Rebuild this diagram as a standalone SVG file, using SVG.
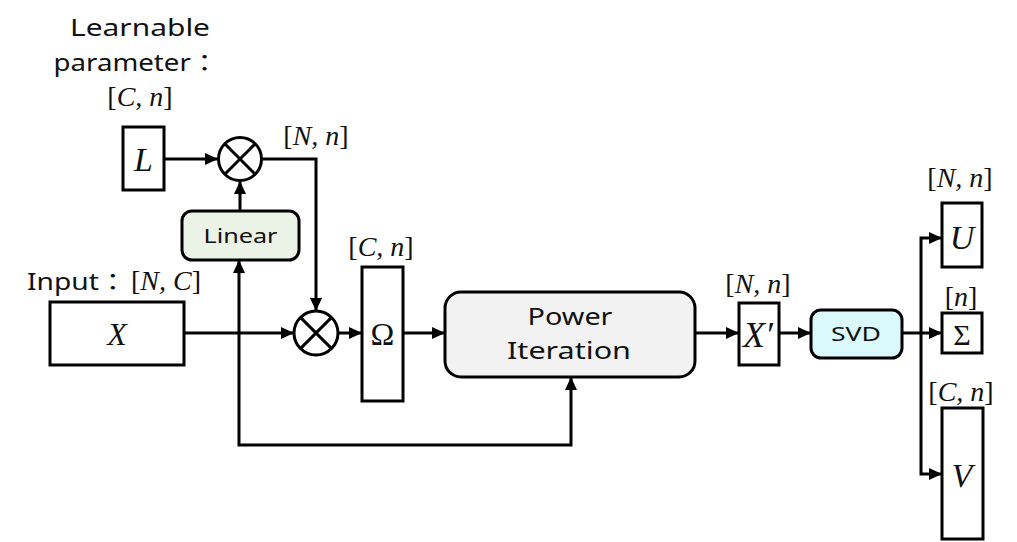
<svg xmlns="http://www.w3.org/2000/svg" width="1017" height="542" viewBox="0 0 1017 542">
<style>
.box{fill:#ffffff;stroke:#000;stroke-width:3}
.op{fill:#ffffff;stroke:#000;stroke-width:3}
.ln{fill:none;stroke:#000;stroke-width:3}
.sans{font-family:"Noto Sans","Noto Sans CJK JP",sans-serif;fill:#111;text-anchor:middle}
.math{font-family:"Liberation Serif","DejaVu Serif",serif;font-style:italic;fill:#111;text-anchor:middle}
.up{font-style:normal}
</style>
<defs>
<marker id="arr" markerUnits="userSpaceOnUse" markerWidth="14" markerHeight="12" refX="13" refY="6" orient="auto-start-reverse">
<path d="M0,0 L13,6 L0,12 Z" fill="#000"/>
</marker>
</defs>
<rect width="1017" height="542" fill="#ffffff"/>

<g id="connectors">
<path class="ln" d="M164,159 H218" marker-end="url(#arr)"/>
<path class="ln" d="M240,211 V181" marker-end="url(#arr)"/>
<path class="ln" d="M262,159 H316 V311" marker-end="url(#arr)"/>
<path class="ln" d="M184,333 H294" marker-end="url(#arr)"/>
<path class="ln" d="M239,260 V445 H571 V377" marker-start="url(#arr)" marker-end="url(#arr)"/>
<path class="ln" d="M338,333 H362" marker-end="url(#arr)"/>
<path class="ln" d="M403,333 H445" marker-end="url(#arr)"/>
<path class="ln" d="M695,333 H739" marker-end="url(#arr)"/>
<path class="ln" d="M779,333 H811" marker-end="url(#arr)"/>
<path class="ln" d="M902,333 H942" marker-end="url(#arr)"/>
<path class="ln" d="M942,238 H921 V474 H942" marker-start="url(#arr)" marker-end="url(#arr)"/>
</g>

<g id="learnable-label">
<text class="sans" x="140" y="36" font-size="23" textLength="140" lengthAdjust="spacingAndGlyphs">Learnable</text>
<text class="sans" x="136" y="71" font-size="23" textLength="165" lengthAdjust="spacingAndGlyphs">parameter：</text>
<text class="math" x="140" y="106" font-size="28"><tspan class="up">[</tspan>C, n<tspan class="up">]</tspan></text>
</g>

<g id="L">
<rect class="box" x="123" y="127" width="41" height="63"/>
<text class="math" x="143.5" y="171" font-size="34">L</text>
</g>

<g id="mul1">
<circle class="op" cx="240" cy="159" r="21.5"/>
<path class="ln" d="M224.8,143.8 L255.2,174.2 M255.2,143.8 L224.8,174.2"/>
<text class="math" x="316" y="145" font-size="28"><tspan class="up">[</tspan>N, n<tspan class="up">]</tspan></text>
</g>

<g id="Linear">
<rect x="182" y="211" width="117" height="49" rx="10" fill="#ebf3e6" stroke="#000" stroke-width="3"/>
<text class="sans" x="240.5" y="243" font-size="20" textLength="74" lengthAdjust="spacingAndGlyphs">Linear</text>
</g>

<g id="X">
<text x="27" y="290" font-size="23" font-family="Noto Sans, Noto Sans CJK JP, sans-serif" fill="#111"><tspan textLength="100" lengthAdjust="spacingAndGlyphs">Input：</tspan></text>
<text class="math" x="166" y="290" font-size="28"><tspan class="up">[</tspan>N, C<tspan class="up">]</tspan></text>
<rect class="box" x="50" y="302" width="134" height="63"/>
<text class="math" x="117" y="345" font-size="32">X</text>
</g>

<g id="mul2">
<circle class="op" cx="316" cy="333" r="22"/>
<path class="ln" d="M300.4,317.4 L331.6,348.6 M331.6,317.4 L300.4,348.6"/>
</g>

<g id="Omega">
<text class="math" x="381" y="256" font-size="28"><tspan class="up">[</tspan>C, n<tspan class="up">]</tspan></text>
<rect class="box" x="362" y="267" width="41" height="134"/>
<text class="math up" x="382.5" y="345" font-size="32">Ω</text>
</g>

<g id="PowerIteration">
<rect x="445" y="292" width="250" height="85" rx="16" fill="#f2f2f2" stroke="#000" stroke-width="3"/>
<text class="sans" x="570" y="325" font-size="24" textLength="85" lengthAdjust="spacingAndGlyphs">Power</text>
<text class="sans" x="569" y="359" font-size="24" textLength="124" lengthAdjust="spacingAndGlyphs">Iteration</text>
</g>

<g id="Xprime">
<text class="math" x="758" y="293" font-size="28"><tspan class="up">[</tspan>N, n<tspan class="up">]</tspan></text>
<rect class="box" x="739" y="303" width="40" height="62"/>
<text class="math" x="758" y="347" font-size="36">X′</text>
</g>

<g id="SVD">
<rect x="811" y="310" width="91" height="48" rx="10" fill="#d9f9fc" stroke="#000" stroke-width="3"/>
<text class="sans" x="856" y="341" font-size="20" textLength="50" lengthAdjust="spacingAndGlyphs">SVD</text>
</g>

<g id="U">
<text class="math" x="960" y="187" font-size="28"><tspan class="up">[</tspan>N, n<tspan class="up">]</tspan></text>
<rect class="box" x="942" y="203" width="40" height="64"/>
<text class="math" x="962" y="249" font-size="34">U</text>
</g>

<g id="Sigma">
<text class="math" x="961" y="306" font-size="28"><tspan class="up">[</tspan>n<tspan class="up">]</tspan></text>
<rect class="box" x="942" y="313" width="40" height="40"/>
<text class="math up" x="962" y="345" font-size="30">Σ</text>
</g>

<g id="V">
<text class="math" x="961" y="401" font-size="28"><tspan class="up">[</tspan>C, n<tspan class="up">]</tspan></text>
<rect class="box" x="942" y="408" width="41" height="131"/>
<text class="math" x="962" y="487" font-size="34">V</text>
</g>
</svg>
